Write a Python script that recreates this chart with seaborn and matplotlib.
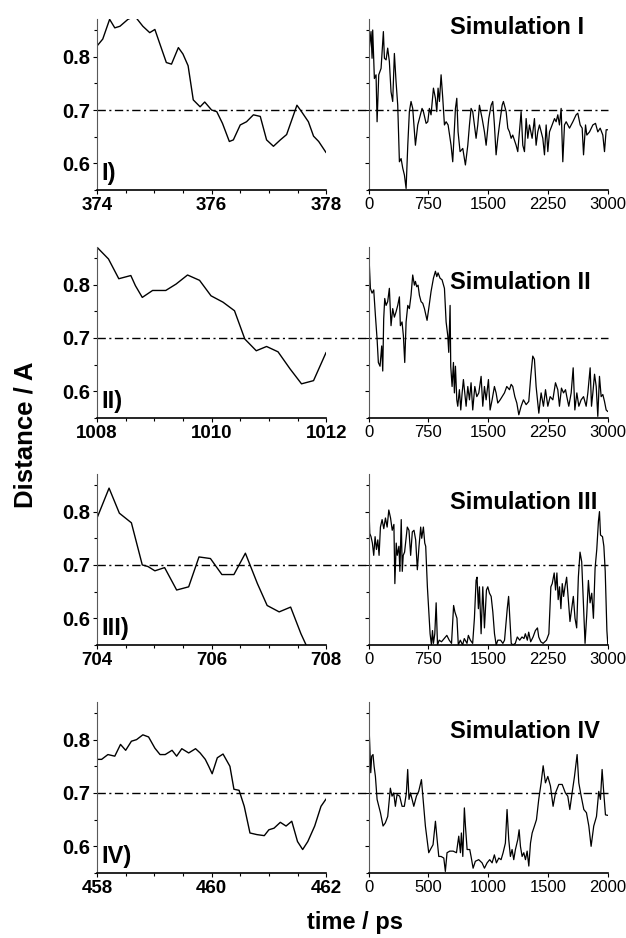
import matplotlib
matplotlib.use("Agg")
import matplotlib.pyplot as plt
from matplotlib.ticker import MultipleLocator
import pandas as pd
import seaborn as sns

# ---- Simulation I ----
zoom1_t = [374.0, 374.10, 374.22, 374.31, 374.40, 374.54, 374.66, 374.80, 374.92, 375.01,
           375.10, 375.21, 375.30, 375.42, 375.50, 375.59, 375.68, 375.80, 375.88, 376.00,
           376.09, 376.19, 376.31, 376.38, 376.50, 376.61, 376.73, 376.85, 376.96, 377.08,
           377.20, 377.31, 377.49, 377.57, 377.69, 377.78, 377.87, 378.0]
zoom1_d = [0.820, 0.833, 0.870, 0.854, 0.857, 0.870, 0.876, 0.857, 0.845, 0.851,
           0.823, 0.789, 0.786, 0.817, 0.805, 0.783, 0.719, 0.706, 0.715, 0.700,
           0.697, 0.675, 0.641, 0.644, 0.672, 0.678, 0.691, 0.688, 0.644, 0.632,
           0.644, 0.654, 0.709, 0.697, 0.678, 0.651, 0.641, 0.620]
full1_t = [0, 29, 42, 50, 71, 92, 105, 126, 155, 184, 197, 218, 238, 259, 280, 301, 322, 343,
           364, 385, 406, 427, 448, 469, 490, 510, 531, 552, 586, 615, 636, 669, 686, 720, 741,
           761, 782, 812, 837, 854, 870, 887, 908, 929, 950, 971, 996, 1033, 1054, 1088, 1105,
           1121, 1146, 1180, 1213, 1243, 1264, 1284, 1305, 1347, 1368, 1389, 1423, 1452, 1473,
           1506, 1536, 1556, 1577, 1598, 1619, 1640, 1674, 1690, 1724, 1745, 1766, 1787, 1807,
           1849, 1870, 1912, 1933, 1954, 1975, 1996, 2017, 2050, 2079, 2100, 2121, 2142, 2184,
           2205, 2226, 2247, 2268, 2301, 2331, 2351, 2372, 2393, 2414, 2435, 2456, 2477, 2519,
           2561, 2602, 2623, 2653, 2678, 2695, 2720, 2736, 2770, 2812, 2845, 2874, 2904, 2937,
           2958, 2979, 3000]
full1_d = [0.803, 0.847, 0.797, 0.850, 0.759, 0.766, 0.678, 0.766, 0.778, 0.847, 0.797, 0.794,
           0.816, 0.791, 0.734, 0.716, 0.806, 0.753, 0.709, 0.603, 0.609, 0.591, 0.578, 0.553,
           0.634, 0.697, 0.716, 0.703, 0.634, 0.672, 0.684, 0.703, 0.697, 0.675, 0.678, 0.703,
           0.691, 0.741, 0.722, 0.697, 0.741, 0.716, 0.766, 0.722, 0.672, 0.678, 0.672, 0.634,
           0.603, 0.703, 0.722, 0.659, 0.622, 0.628, 0.597, 0.634, 0.672, 0.703, 0.697, 0.647,
           0.672, 0.709, 0.684, 0.659, 0.634, 0.684, 0.709, 0.716, 0.672, 0.616, 0.647, 0.672,
           0.709, 0.716, 0.697, 0.666, 0.659, 0.647, 0.653, 0.634, 0.622, 0.697, 0.634, 0.622,
           0.684, 0.647, 0.672, 0.647, 0.684, 0.634, 0.659, 0.672, 0.647, 0.616, 0.672, 0.622,
           0.659, 0.672, 0.684, 0.678, 0.691, 0.672, 0.703, 0.603, 0.672, 0.678, 0.666, 0.678,
           0.691, 0.694, 0.672, 0.666, 0.616, 0.672, 0.653, 0.659, 0.672, 0.675, 0.659, 0.666,
           0.653, 0.622, 0.663, 0.663]

# ---- Simulation II ----
zoom2_t = [1008.0, 1008.2, 1008.38, 1008.59, 1008.67, 1008.79, 1008.97, 1009.2, 1009.38,
           1009.58, 1009.79, 1009.99, 1010.2, 1010.4, 1010.58, 1010.78, 1010.96, 1011.16,
           1011.37, 1011.57, 1011.78, 1012.0]
zoom2_d = [0.870, 0.848, 0.811, 0.817, 0.798, 0.776, 0.789, 0.789, 0.801, 0.818, 0.808,
           0.779, 0.767, 0.751, 0.698, 0.676, 0.684, 0.674, 0.642, 0.614, 0.620, 0.673]
full2_t = [0, 8, 21, 42, 63, 84, 105, 121, 142, 163, 176, 188, 201, 218, 238, 259, 280, 301,
           322, 343, 364, 385, 397, 418, 435, 452, 469, 490, 510, 531, 552, 573, 586, 602, 619,
           636, 657, 678, 699, 732, 753, 782, 812, 837, 854, 870, 895, 920, 950, 971, 992, 1004,
           1021, 1029, 1046, 1063, 1075, 1088, 1105, 1117, 1138, 1155, 1172, 1188, 1205, 1222,
           1243, 1264, 1284, 1305, 1331, 1356, 1381, 1410, 1431, 1452, 1473, 1502, 1523, 1548,
           1577, 1598, 1619, 1649, 1674, 1703, 1732, 1766, 1787, 1807, 1833, 1858, 1883, 1912,
           1941, 1975, 2008, 2033, 2058, 2079, 2100, 2134, 2163, 2192, 2218, 2247, 2276, 2310,
           2343, 2372, 2393, 2418, 2444, 2469, 2485, 2510, 2540, 2565, 2586, 2611, 2636, 2665,
           2695, 2728, 2749, 2778, 2795, 2812, 2833, 2854, 2874, 2895, 2916, 2937, 2958, 2979,
           3000]
full2_d = [0.799, 0.837, 0.793, 0.784, 0.790, 0.742, 0.698, 0.654, 0.647, 0.685, 0.638, 0.736,
           0.774, 0.761, 0.768, 0.793, 0.723, 0.755, 0.739, 0.749, 0.761, 0.777, 0.723, 0.730,
           0.704, 0.654, 0.730, 0.761, 0.755, 0.780, 0.818, 0.799, 0.806, 0.796, 0.799, 0.780,
           0.768, 0.765, 0.755, 0.733, 0.755, 0.787, 0.812, 0.825, 0.815, 0.822, 0.812, 0.809,
           0.793, 0.730, 0.704, 0.673, 0.761, 0.647, 0.609, 0.654, 0.597, 0.647, 0.584, 0.572,
           0.603, 0.565, 0.597, 0.622, 0.597, 0.572, 0.609, 0.584, 0.616, 0.565, 0.609, 0.590,
           0.597, 0.628, 0.572, 0.609, 0.584, 0.622, 0.565, 0.584, 0.609, 0.597, 0.578, 0.584,
           0.590, 0.597, 0.609, 0.603, 0.613, 0.609, 0.590, 0.578, 0.556, 0.572, 0.584, 0.575,
           0.581, 0.628, 0.666, 0.660, 0.609, 0.559, 0.597, 0.572, 0.603, 0.572, 0.590, 0.584,
           0.616, 0.603, 0.572, 0.606, 0.597, 0.603, 0.590, 0.572, 0.597, 0.644, 0.565, 0.597,
           0.572, 0.584, 0.590, 0.572, 0.597, 0.644, 0.572, 0.597, 0.632, 0.609, 0.553, 0.628,
           0.590, 0.594, 0.581, 0.565, 0.562]

# ---- Simulation III ----
zoom3_t = [704.0, 704.21, 704.39, 704.6, 704.79, 704.89, 705.01, 705.18, 705.39, 705.6,
           705.78, 705.98, 706.18, 706.39, 706.59, 706.8, 706.97, 707.18, 707.38, 707.56, 707.65]
zoom3_d = [0.788, 0.844, 0.797, 0.779, 0.700, 0.697, 0.689, 0.695, 0.653, 0.659, 0.715,
           0.712, 0.682, 0.682, 0.722, 0.665, 0.624, 0.612, 0.621, 0.571, 0.550]
full3_t = [0, 13, 29, 46, 63, 80, 97, 114, 130, 147, 168, 189, 210, 231, 252, 274, 295, 316,
           328, 345, 358, 379, 391, 408, 421, 433, 450, 467, 484, 505, 526, 547, 568, 589, 610,
           631, 652, 665, 686, 703, 715, 736, 757, 770, 787, 800, 812, 829, 846, 863, 884, 913,
           947, 980, 1010, 1039, 1065, 1081, 1107, 1124, 1149, 1178, 1199, 1233, 1250, 1275,
           1304, 1326, 1347, 1359, 1376, 1389, 1410, 1431, 1452, 1464, 1477, 1494, 1515, 1536,
           1557, 1578, 1599, 1620, 1654, 1683, 1704, 1738, 1755, 1772, 1788, 1809, 1839, 1864,
           1894, 1923, 1948, 1965, 1990, 2007, 2032, 2062, 2091, 2117, 2133, 2159, 2188, 2230,
           2260, 2285, 2302, 2327, 2344, 2361, 2377, 2394, 2411, 2428, 2445, 2462, 2483, 2504,
           2525, 2546, 2567, 2588, 2609, 2630, 2651, 2672, 2693, 2714, 2735, 2756, 2777, 2798,
           2819, 2840, 2861, 2882, 2895, 2908, 2933, 2950, 2967, 2988, 3000]
full3_d = [0.824, 0.759, 0.753, 0.741, 0.718, 0.753, 0.729, 0.747, 0.718, 0.771, 0.785, 0.768,
           0.788, 0.771, 0.803, 0.788, 0.765, 0.776, 0.665, 0.741, 0.718, 0.735, 0.688, 0.785,
           0.688, 0.718, 0.724, 0.747, 0.771, 0.765, 0.718, 0.762, 0.765, 0.747, 0.691, 0.735,
           0.771, 0.750, 0.771, 0.741, 0.735, 0.659, 0.606, 0.571, 0.550, 0.577, 0.553, 0.571,
           0.629, 0.550, 0.559, 0.556, 0.562, 0.568, 0.559, 0.553, 0.624, 0.612, 0.600, 0.550,
           0.559, 0.550, 0.562, 0.553, 0.568, 0.559, 0.553, 0.600, 0.671, 0.677, 0.618, 0.659,
           0.571, 0.659, 0.582, 0.618, 0.653, 0.659, 0.647, 0.641, 0.612, 0.571, 0.550, 0.559,
           0.559, 0.553, 0.559, 0.618, 0.641, 0.594, 0.553, 0.550, 0.553, 0.565, 0.559, 0.565,
           0.562, 0.571, 0.559, 0.574, 0.556, 0.565, 0.577, 0.582, 0.565, 0.556, 0.553, 0.559,
           0.571, 0.659, 0.665, 0.685, 0.653, 0.685, 0.635, 0.659, 0.618, 0.665, 0.641, 0.659,
           0.677, 0.635, 0.594, 0.618, 0.641, 0.600, 0.582, 0.677, 0.724, 0.706, 0.629, 0.553,
           0.606, 0.671, 0.629, 0.647, 0.600, 0.694, 0.729, 0.782, 0.800, 0.756, 0.753, 0.735,
           0.688, 0.577, 0.550]

# ---- Simulation IV ----
zoom4_t = [458.0, 458.08, 458.19, 458.31, 458.41, 458.5, 458.6, 458.69, 458.8, 458.9, 459.01,
           459.1, 459.19, 459.31, 459.39, 459.48, 459.6, 459.72, 459.8, 459.89, 459.95, 460.01,
           460.1, 460.2, 460.32, 460.39, 460.48, 460.57, 460.67, 460.79, 460.92, 461.0, 461.09,
           461.2, 461.3, 461.4, 461.5, 461.59, 461.68, 461.8, 461.91, 462.0]
zoom4_d = [0.763, 0.763, 0.772, 0.769, 0.791, 0.780, 0.797, 0.800, 0.809, 0.805, 0.784,
           0.772, 0.772, 0.780, 0.769, 0.783, 0.775, 0.783, 0.775, 0.763, 0.750, 0.736,
           0.766, 0.773, 0.750, 0.707, 0.705, 0.675, 0.625, 0.622, 0.620, 0.631, 0.634,
           0.645, 0.638, 0.647, 0.609, 0.594, 0.609, 0.638, 0.675, 0.689]
full4_t = [0, 8, 17, 25, 36, 45, 56, 70, 98, 120, 139, 159, 181, 195, 209, 223, 237, 259, 279,
           298, 315, 326, 337, 349, 363, 377, 399, 418, 441, 460, 474, 488, 502, 516, 538, 558,
           572, 586, 605, 628, 641, 655, 678, 706, 734, 753, 767, 775, 787, 800, 809, 823, 845,
           856, 873, 892, 920, 948, 968, 990, 1012, 1032, 1051, 1068, 1088, 1107, 1124, 1143,
           1157, 1171, 1185, 1199, 1213, 1227, 1247, 1258, 1269, 1283, 1297, 1311, 1325, 1339,
           1353, 1367, 1386, 1403, 1422, 1442, 1459, 1478, 1498, 1520, 1542, 1562, 1590, 1618,
           1645, 1665, 1682, 1701, 1721, 1743, 1757, 1777, 1799, 1821, 1841, 1860, 1882, 1905,
           1924, 1938, 1952, 1966, 1980, 2000]
full4_d = [0.838, 0.794, 0.738, 0.769, 0.772, 0.750, 0.731, 0.688, 0.663, 0.638, 0.644, 0.656,
           0.709, 0.694, 0.700, 0.675, 0.697, 0.694, 0.675, 0.675, 0.700, 0.744, 0.688, 0.700,
           0.688, 0.675, 0.694, 0.703, 0.725, 0.675, 0.638, 0.613, 0.588, 0.594, 0.603, 0.647,
           0.613, 0.581, 0.581, 0.578, 0.553, 0.588, 0.591, 0.591, 0.588, 0.619, 0.588, 0.625,
           0.581, 0.672, 0.638, 0.594, 0.594, 0.581, 0.559, 0.572, 0.575, 0.569, 0.559, 0.569,
           0.575, 0.569, 0.584, 0.569, 0.578, 0.575, 0.588, 0.606, 0.669, 0.613, 0.581, 0.594,
           0.575, 0.594, 0.613, 0.631, 0.600, 0.581, 0.588, 0.575, 0.591, 0.563, 0.606, 0.625,
           0.638, 0.650, 0.688, 0.719, 0.751, 0.719, 0.731, 0.713, 0.675, 0.700, 0.716, 0.716,
           0.700, 0.694, 0.669, 0.700, 0.731, 0.772, 0.719, 0.694, 0.669, 0.663, 0.638, 0.600,
           0.638, 0.656, 0.703, 0.688, 0.744, 0.700, 0.659, 0.658]

roman = ["I)", "II)", "III)", "IV)"]
sim_titles = ["Simulation I", "Simulation II", "Simulation III", "Simulation IV"]
zoom_ticks = [[374, 376, 378], [1008, 1010, 1012], [704, 706, 708], [458, 460, 462]]
full_ticks = [[0, 750, 1500, 2250, 3000]] * 3 + [[0, 500, 1000, 1500, 2000]]
zoom_data = [(zoom1_t, zoom1_d), (zoom2_t, zoom2_d), (zoom3_t, zoom3_d), (zoom4_t, zoom4_d)]
full_data = [(full1_t, full1_d), (full2_t, full2_d), (full3_t, full3_d), (full4_t, full4_d)]

sns.set_style("ticks")
plt.rcParams['font.family'] = ['Liberation Sans', 'DejaVu Sans']
plt.rcParams['text.color'] = 'black'
plt.rcParams['xtick.color'] = 'black'
plt.rcParams['ytick.color'] = 'black'
plt.rcParams['axes.edgecolor'] = 'black'

fig = plt.figure(figsize=(6.26, 9.38), dpi=100)
bottoms = [0.7974, 0.5544, 0.3124, 0.0693]
height = 0.182
title_y = [0.955, 0.794, 0.835, 0.83]
dash = (0, (6, 2.5, 1.5, 2.5))

for i in range(4):
    axl = fig.add_axes([0.155, bottoms[i], 0.366, height])
    axr = fig.add_axes([0.589, bottoms[i], 0.382, height])
    for ax in (axl, axr):
        ax.set_facecolor('none')
        ax.set_ylim(0.55, 0.87)
        ax.yaxis.set_major_locator(MultipleLocator(0.1))
        ax.yaxis.set_minor_locator(MultipleLocator(0.05))
        for s in ('top', 'right'):
            ax.spines[s].set_visible(False)
        ax.spines['left'].set_color('0.35')
        ax.spines['left'].set_linewidth(0.8)
        ax.spines['bottom'].set_linewidth(1.2)
        ax.tick_params(which='both', direction='out', length=3, width=0.8, pad=2)
        ax.tick_params(which='minor', length=2)

    zt, zd = zoom_data[i]
    df_z = pd.DataFrame({'t': zt, 'd': zd})
    sns.lineplot(data=df_z, x='t', y='d', ax=axl, color='black', linewidth=1.0,
                 estimator=None, sort=False)
    axl.set_xlim(zoom_ticks[i][0], zoom_ticks[i][-1])
    axl.set_xticks(zoom_ticks[i])
    axl.xaxis.set_minor_locator(MultipleLocator(0.5))
    axl.set_yticks([0.6, 0.7, 0.8])
    axl.set_yticklabels(['0.6', '0.7', '0.8'], fontsize=14.5, fontweight='bold')
    axl.set_xticklabels([str(v) for v in zoom_ticks[i]], fontsize=13.5, fontweight='bold')
    axl.set_xlabel('')
    axl.set_ylabel('')
    axl.text(0.02, 0.03, roman[i], transform=axl.transAxes, fontsize=17,
             fontweight='bold', ha='left', va='bottom')
    # threshold line runs across both panels
    axl.axhline(0.7, xmin=0, xmax=2.23, color='black', linewidth=1.0,
                linestyle=dash, clip_on=False)

    ft, fd = full_data[i]
    df_f = pd.DataFrame({'t': ft, 'd': fd})
    sns.lineplot(data=df_f, x='t', y='d', ax=axr, color='black', linewidth=0.9,
                 estimator=None, sort=False)
    axr.set_xlim(full_ticks[i][0], full_ticks[i][-1])
    axr.set_xticks(full_ticks[i])
    axr.set_xticklabels([str(v) for v in full_ticks[i]], fontsize=12)
    axr.set_yticks([0.6, 0.7, 0.8])
    axr.set_yticklabels([])
    axr.set_xlabel('')
    axr.set_ylabel('')
    axr.text(0.34, title_y[i], sim_titles[i], transform=axr.transAxes, fontsize=17,
             fontweight='bold', ha='left', va='center')

fig.text(0.040, 0.537, 'Distance / A', rotation=90, fontsize=18.5, fontweight='bold',
         ha='center', va='center')
fig.text(0.567, 0.017, 'time / ps', fontsize=17, fontweight='bold',
         ha='center', va='center')

fig.savefig('out.png', dpi=100)
plt.close(fig)
